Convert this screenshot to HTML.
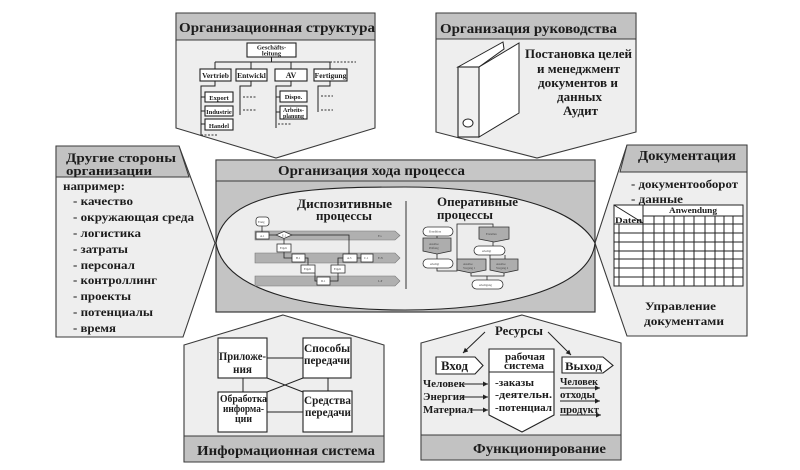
<!DOCTYPE html>
<html lang="ru">
<head>
<meta charset="utf-8">
<title>Организация хода процесса</title>
<style>
html,body{margin:0;padding:0;background:#fff;}
svg{display:block;filter:blur(0.35px);}
text{font-family:"Liberation Serif","Noto Serif CJK SC",serif;font-weight:bold;fill:#1c1c1c;}
.p{fill:#eeeeee;stroke:#3a3a3a;stroke-width:1.1;}
.h{fill:#c2c2c2;stroke:#3a3a3a;stroke-width:1;}
.b{fill:#fff;stroke:#222;stroke-width:1.1;}
.l{fill:none;stroke:#222;stroke-width:1;}
.d{fill:none;stroke:#333;stroke-width:1;stroke-dasharray:2 1.5;}
.t{fill:#fff;stroke:#333;stroke-width:.8;}
.g{fill:#adadad;stroke:#333;stroke-width:.8;}
.bar{fill:#b0b0b0;stroke:#777;stroke-width:.6;}
.s{font-size:3px;font-weight:normal;fill:#444;}
</style>
</head>
<body>
<svg width="800" height="470" viewBox="0 0 800 470" xmlns="http://www.w3.org/2000/svg">
<defs>
<marker id="a" markerWidth="6" markerHeight="6" refX="5" refY="3" orient="auto"><path d="M0,0.5 L5,3 L0,5.5 Z" fill="#222"/></marker>
</defs>
<rect width="800" height="470" fill="#fff"/>

<!-- Top left -->
<polygon class="p" points="176,13 375,13 375,128 276,158 176,128"/>
<rect class="h" x="176" y="13" width="199" height="27"/>
<text x="179" y="32" font-size="14" textLength="196" lengthAdjust="spacingAndGlyphs">Организационная структура</text>
<rect class="b" x="247" y="43" width="49" height="14"/>
<text x="271.5" y="49.5" font-size="6.5" text-anchor="middle">Geschäfts-</text>
<text x="271.5" y="55.5" font-size="6.5" text-anchor="middle">leitung</text>
<path class="l" d="M271.5,57V62M215,62H330M215,62V69M251,62V69M291,62V69M330,62V69"/>
<path class="d" d="M330,62H356"/>
<rect class="b" x="200" y="69" width="31" height="12"/><text x="215.5" y="78" font-size="7.5" text-anchor="middle">Vertrieb</text>
<rect class="b" x="236" y="69" width="31" height="12"/><text x="251.5" y="78" font-size="7.5" text-anchor="middle">Entwickl</text>
<rect class="b" x="275" y="69" width="32" height="12"/><text x="291" y="78" font-size="8" text-anchor="middle">AV</text>
<rect class="b" x="314" y="69" width="33" height="12"/><text x="330.5" y="78" font-size="7.5" text-anchor="middle">Fertigung</text>
<path class="l" d="M215,81V86H201V135M201,97H205M201,111H205M201,124H205M251,81V86H240V115M291,81V86H276V128M276,97H280M276,112H280M330,81V86H318V112"/>
<rect class="b" x="205" y="92" width="28" height="10"/><text x="219" y="100" font-size="6.5" text-anchor="middle">Export</text>
<rect class="b" x="205" y="106" width="28" height="10"/><text x="219" y="114" font-size="6.5" text-anchor="middle">Industrie</text>
<rect class="b" x="205" y="119" width="28" height="11"/><text x="219" y="128" font-size="6.5" text-anchor="middle">Handel</text>
<rect class="b" x="280" y="91" width="27" height="11"/><text x="293.5" y="99" font-size="6.5" text-anchor="middle">Dispo.</text>
<rect class="b" x="280" y="106" width="27" height="13"/><text x="293.5" y="112" font-size="6" text-anchor="middle">Arbeits-</text><text x="293.5" y="118" font-size="6" text-anchor="middle">planung</text>
<path class="d" d="M201,135H218M243,97H257M243,110H257M278,124H292M321,96H333M321,110H333"/>

<!-- Top right -->
<polygon class="p" points="436,13 636,13 636,132 537,158 436,132"/>
<rect class="h" x="436" y="13" width="200" height="26"/>
<text x="440" y="33" font-size="13.5" textLength="177" lengthAdjust="spacingAndGlyphs">Организация руководства</text>
<polygon points="458,67 503,42 504,49 479,67" fill="#fff" stroke="#222" stroke-width="1"/>
<polygon points="479,67 519,43 519,113 479,137" fill="#fff" stroke="#222" stroke-width="1"/>
<rect x="458" y="67" width="21" height="70" fill="#f1f1f1" stroke="#222" stroke-width="1.1"/>
<ellipse cx="468" cy="123" rx="5" ry="4" fill="#fff" stroke="#222" stroke-width="1"/>
<text x="525" y="58" font-size="12.5" textLength="107" lengthAdjust="spacingAndGlyphs">Постановка целей</text>
<text x="537" y="73" font-size="12.5" textLength="83" lengthAdjust="spacingAndGlyphs">и менеджмент</text>
<text x="538" y="87" font-size="12.5" textLength="80" lengthAdjust="spacingAndGlyphs">документов и</text>
<text x="557" y="101" font-size="12.5" textLength="45" lengthAdjust="spacingAndGlyphs">данных</text>
<text x="563" y="115" font-size="12.5" textLength="35" lengthAdjust="spacingAndGlyphs">Аудит</text>

<!-- Left panel -->
<polygon class="p" points="56,146 179,146 215,243 183,337 56,337"/>
<polygon class="h" points="56,146 179,146 189,177 56,177"/>
<text x="66" y="162" font-size="13" textLength="110" lengthAdjust="spacingAndGlyphs">Другие стороны</text>
<text x="66" y="175" font-size="13" textLength="86" lengthAdjust="spacingAndGlyphs">организации</text>
<text x="63" y="190" font-size="11.5" textLength="62" lengthAdjust="spacingAndGlyphs">например:</text>
<text x="73" y="205" font-size="11.5" textLength="60" lengthAdjust="spacingAndGlyphs">- качество</text>
<text x="73" y="221" font-size="11.5" textLength="121" lengthAdjust="spacingAndGlyphs">- окружающая среда</text>
<text x="73" y="237" font-size="11.5" textLength="68" lengthAdjust="spacingAndGlyphs">- логистика</text>
<text x="73" y="253" font-size="11.5" textLength="55" lengthAdjust="spacingAndGlyphs">- затраты</text>
<text x="73" y="269" font-size="11.5" textLength="62" lengthAdjust="spacingAndGlyphs">- персонал</text>
<text x="73" y="284" font-size="11.5" textLength="84" lengthAdjust="spacingAndGlyphs">- контроллинг</text>
<text x="73" y="300" font-size="11.5" textLength="58" lengthAdjust="spacingAndGlyphs">- проекты</text>
<text x="73" y="316" font-size="11.5" textLength="80" lengthAdjust="spacingAndGlyphs">- потенциалы</text>
<text x="73" y="332" font-size="11.5" textLength="43" lengthAdjust="spacingAndGlyphs">- время</text>

<!-- Right panel -->
<polygon class="p" points="627,145 747,145 747,336 627,336 595,243"/>
<polygon class="h" points="627,145 747,145 747,172 620,172"/>
<text x="638" y="160" font-size="13.5" textLength="98" lengthAdjust="spacingAndGlyphs">Документация</text>
<text x="631" y="188" font-size="12" textLength="107" lengthAdjust="spacingAndGlyphs">- документооборот</text>
<text x="631" y="203" font-size="12" textLength="52" lengthAdjust="spacingAndGlyphs">- данные</text>
<rect x="614" y="205" width="129" height="81" fill="#fff" stroke="#222" stroke-width="1"/>
<path class="l" d="M643,216H743M643,224H743M614,224H643M614,233H743M614,242H743M614,251H743M614,259H743M614,268H743M614,277H743M619,224V286M643,205V286M654,216V286M664,216V286M674,216V286M684,216V286M694,216V286M705,216V286M715,216V286M724,216V286M733,216V286M614,205L643,223"/>
<text x="615" y="223" font-size="8" textLength="27" lengthAdjust="spacingAndGlyphs">Daten</text>
<text x="669" y="213" font-size="8" textLength="48" lengthAdjust="spacingAndGlyphs">Anwendung</text>
<text x="645" y="310" font-size="12" textLength="71" lengthAdjust="spacingAndGlyphs">Управление</text>
<text x="644" y="325" font-size="12" textLength="80" lengthAdjust="spacingAndGlyphs">документами</text>

<!-- Center -->
<rect x="216" y="160" width="379" height="152" fill="#c4c4c4" stroke="#3a3a3a" stroke-width="1.2"/>
<rect x="216" y="160" width="379" height="21" fill="#c6c6c6" stroke="#3a3a3a" stroke-width="1"/>
<text x="278" y="175" font-size="13.5" textLength="187" lengthAdjust="spacingAndGlyphs">Организация хода процесса</text>
<path d="M216,243 C225,190 310,187 405,187 C490,187 575,205 595,243 C590,290 500,310 405,310 C320,310 225,295 216,243 Z" fill="#ededed" stroke="#222" stroke-width="1.1"/>
<text x="297" y="208" font-size="12.5" textLength="95" lengthAdjust="spacingAndGlyphs">Диспозитивные</text>
<text x="316" y="220" font-size="12.5" textLength="56" lengthAdjust="spacingAndGlyphs">процессы</text>
<path d="M406,201V289" stroke="#333" stroke-width="1" fill="none"/>
<text x="437" y="206" font-size="12.5" textLength="81" lengthAdjust="spacingAndGlyphs">Оперативные</text>
<text x="437" y="219" font-size="12.5" textLength="56" lengthAdjust="spacingAndGlyphs">процессы</text>

<!-- Dispositive diagram -->
<polygon class="bar" points="255,231 395,231 400,235.5 395,240 255,240"/>
<polygon class="bar" points="255,253 395,253 400,258 395,263 255,263"/>
<polygon class="bar" points="255,276 395,276 400,281 395,286 255,286"/>
<text class="s" x="378" y="237">F.a</text><text class="s" x="378" y="259">E.N</text><text class="s" x="378" y="282">L.P</text>
<path class="l" style="stroke-width:.8" d="M262,226V232M269,235H276M292,235H349V254M284,239V244M284,252V258H292M305,258H308V265M315,273V281H317M330,281H338V273M338,265V258H343M357,258H361"/>
<rect class="t" x="256" y="217" width="13" height="9" rx="3"/><text class="s" x="258" y="223">Ereig</text>
<rect class="t" x="256" y="232" width="13" height="7"/><text class="s" x="260" y="237">A.1</text>
<polygon class="t" points="276,235 284,231.5 292,235 284,238.5"/><text class="s" x="282" y="236.5">E.1</text>
<rect class="t" x="277" y="244" width="14" height="8"/><text class="s" x="280" y="249">Ergeb</text>
<rect class="t" x="292" y="254" width="13" height="8"/><text class="s" x="296" y="259">B.1</text>
<rect class="t" x="343" y="254" width="14" height="8"/><text class="s" x="347" y="259">A.3</text>
<rect class="t" x="361" y="254" width="12" height="8"/><text class="s" x="364" y="259">C.1</text>
<rect class="t" x="301" y="265" width="14" height="8"/><text class="s" x="304" y="270">Ergeb</text>
<rect class="t" x="331" y="265" width="14" height="8"/><text class="s" x="334" y="270">Ergeb</text>
<rect class="t" x="317" y="277" width="13" height="8"/><text class="s" x="321" y="282">D.1</text>

<!-- Operative diagram -->
<path class="l" style="stroke-width:.8" d="M437,236V238M437,253V259M437,268V271H457V224H493V227M493,242V246M490,255V259M505,255V259M471,273V276H504V273M487,276V280"/>
<rect class="t" x="423" y="227" width="30" height="9" rx="4.5"/><text class="s" x="429" y="232.5">Kondition</text>
<polygon class="g" points="423,238 451,238 451,251 437,254 423,251"/><text class="s" x="429" y="245">Auslöse</text><text class="s" x="429" y="249">Prüfung</text>
<rect class="t" x="423" y="259" width="30" height="9" rx="4.5"/><text class="s" x="430" y="265">erledigt</text>
<polygon class="g" points="479,227 509,227 509,239 494,242 479,239"/><text class="s" x="486" y="235">Erstellen</text>
<rect class="t" x="474" y="246" width="31" height="9" rx="4.5"/><text class="s" x="482" y="252">erledigt</text>
<polygon class="g" points="457,259 486,259 486,270 471,273 457,270"/><text class="s" x="463" y="265">Auslöse</text><text class="s" x="463" y="269">Vorgang 1</text>
<polygon class="g" points="490,259 518,259 518,270 504,273 490,270"/><text class="s" x="496" y="265">Auslöse</text><text class="s" x="496" y="269">Vorgang 2</text>
<rect class="t" x="472" y="280" width="31" height="9" rx="4.5"/><text class="s" x="479" y="286">erledigung</text>

<!-- Bottom left -->
<polygon class="p" points="283,315 384,345 384,462 184,462 184,345"/>
<rect class="h" x="184" y="436" width="200" height="26"/>
<text x="197" y="455" font-size="14" textLength="178" lengthAdjust="spacingAndGlyphs">Информационная система</text>
<path class="l" d="M267,358H303M243,378V392M328,378V391M267,378L303,392M303,378L267,392M267,412H303"/>
<rect class="b" x="218" y="338" width="49" height="40"/>
<rect class="b" x="303" y="338" width="48" height="40"/>
<rect class="b" x="218" y="392" width="49" height="40"/>
<rect class="b" x="303" y="391" width="49" height="41"/>
<text x="219" y="360" font-size="11.5" textLength="47" lengthAdjust="spacingAndGlyphs">Приложе-</text>
<text x="233" y="373" font-size="11.5" textLength="19" lengthAdjust="spacingAndGlyphs">ния</text>
<text x="304" y="352" font-size="11.5" textLength="46" lengthAdjust="spacingAndGlyphs">Способы</text>
<text x="304" y="364" font-size="11.5" textLength="46" lengthAdjust="spacingAndGlyphs">передачи</text>
<text x="220" y="402" font-size="10" textLength="47" lengthAdjust="spacingAndGlyphs">Обработка</text>
<text x="223" y="412" font-size="10" textLength="41" lengthAdjust="spacingAndGlyphs">информа-</text>
<text x="235" y="422" font-size="10" textLength="17" lengthAdjust="spacingAndGlyphs">ции</text>
<text x="304" y="404" font-size="11.5" textLength="47" lengthAdjust="spacingAndGlyphs">Средства</text>
<text x="305" y="416" font-size="11.5" textLength="46" lengthAdjust="spacingAndGlyphs">передачи</text>

<!-- Bottom right -->
<polygon class="p" points="522,315 621,343 621,460 421,460 421,343"/>
<rect class="h" x="421" y="435" width="200" height="25"/>
<text x="473" y="453" font-size="14" textLength="133" lengthAdjust="spacingAndGlyphs">Функционирование</text>
<text x="495" y="335" font-size="12.5" textLength="48" lengthAdjust="spacingAndGlyphs">Ресурсы</text>
<path class="l" marker-end="url(#a)" d="M485,332L463,353"/>
<path class="l" marker-end="url(#a)" d="M548,332L571,355"/>
<polygon class="b" points="436,357 475,357 483,365.5 475,374 436,374"/>
<text x="441" y="370" font-size="12.5" textLength="27" lengthAdjust="spacingAndGlyphs">Вход</text>
<polygon class="b" points="489,349 554,349 554,415 522,432 489,415"/>
<path class="l" d="M489,372H554"/>
<text x="505" y="360" font-size="10.5" textLength="40" lengthAdjust="spacingAndGlyphs">рабочая</text>
<text x="504" y="369" font-size="10.5" textLength="40" lengthAdjust="spacingAndGlyphs">система</text>
<text x="495" y="386" font-size="10.5" textLength="39" lengthAdjust="spacingAndGlyphs">-заказы</text>
<text x="495" y="398" font-size="10.5" textLength="57" lengthAdjust="spacingAndGlyphs">-деятельн.</text>
<text x="495" y="411" font-size="10.5" textLength="57" lengthAdjust="spacingAndGlyphs">-потенциал</text>
<polygon class="b" points="562,357 603,357 613,365.5 603,373 562,373"/>
<text x="565" y="370" font-size="12" textLength="37" lengthAdjust="spacingAndGlyphs">Выход</text>
<text x="423" y="387" font-size="10.5" textLength="42" lengthAdjust="spacingAndGlyphs">Человек</text>
<text x="423" y="400" font-size="10.5" textLength="42" lengthAdjust="spacingAndGlyphs">Энергия</text>
<text x="423" y="413" font-size="10.5" textLength="50" lengthAdjust="spacingAndGlyphs">Материал</text>
<path class="l" marker-end="url(#a)" d="M462,384H488"/>
<path class="l" marker-end="url(#a)" d="M462,397H488"/>
<path class="l" marker-end="url(#a)" d="M470,410H488"/>
<text x="560" y="385" font-size="10.5" textLength="38" lengthAdjust="spacingAndGlyphs">Человек</text>
<text x="560" y="398" font-size="10.5" textLength="35" lengthAdjust="spacingAndGlyphs">отходы</text>
<text x="560" y="413" font-size="10.5" textLength="39" lengthAdjust="spacingAndGlyphs">продукт</text>
<path class="l" marker-end="url(#a)" d="M560,388H600"/>
<path class="l" marker-end="url(#a)" d="M560,401H600"/>
<path class="l" marker-end="url(#a)" d="M560,415H601"/>
</svg>
</body>
</html>
